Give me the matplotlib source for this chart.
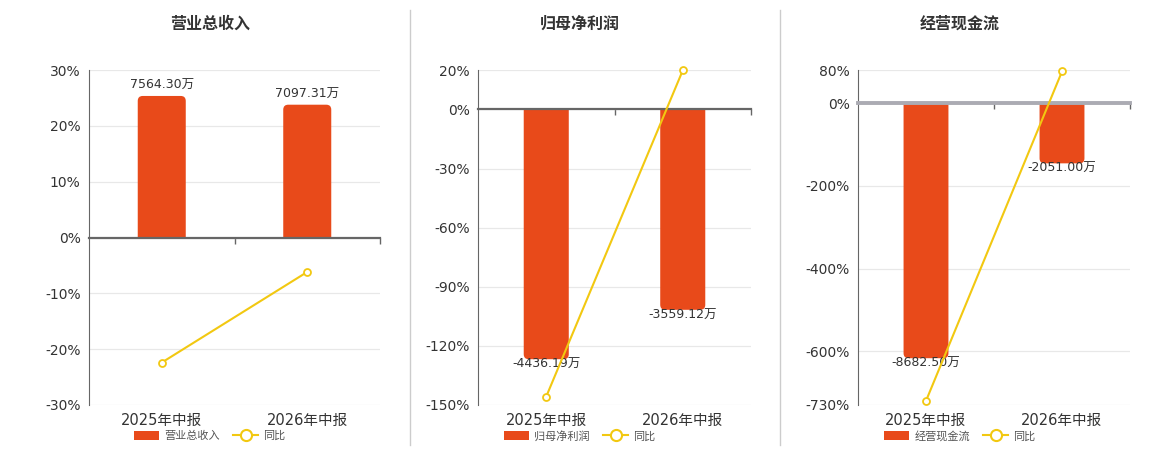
import matplotlib
matplotlib.use("Agg")
import matplotlib.pyplot as plt
from matplotlib.patches import PathPatch, Patch
from matplotlib.path import Path
from matplotlib.lines import Line2D
from matplotlib.transforms import blended_transform_factory

plt.rcParams['font.family'] = ['DejaVu Sans', 'Noto Sans CJK SC']

# Data
periods = ['2025年中报', '2026年中报']
titles = ['营业总收入', '归母净利润', '经营现金流']
bar_values = [
    [7564.30, 7097.31],
    [-4436.19, -3559.12],
    [-8682.50, -2051.00],
]
yoy_values = [
    [-22.4, -6.17],
    [-145.7, 19.77],
    [-720.0, 76.38],
]
pct_ticks = [
    [-30, -20, -10, 0, 10, 20, 30],
    [-150, -120, -90, -60, -30, 0, 20],
    [-730, -600, -400, -200, 0, 80],
]

# Layout / style (pixels of a 1160x450 canvas)
W, H = 1160, 450
axes_px = [(89, 380), (478, 751), (858, 1130)]
ax_top, ax_bottom = 70, 405
center_px = [210, 580, 960]
zero_styles = [dict(color='#666666', lw=1.6), dict(color='#666666', lw=1.6),
               dict(color='#ababb3', lw=2.8)]
BAR_COLOR = '#e84a1a'
LINE_COLOR = '#f2c811'
TEXT = '#333333'
BAR_REACH = 0.845
BAR_WIDTH = 0.33
RADIUS_PX = 5


def round_end(rect, rx, ry):
    """single path: square at the base, rounded at the far end"""
    a = rect.get_x()
    b = a + rect.get_width()
    y0 = rect.get_y()
    h = rect.get_height()
    v = y0 + h
    s = 1 if h >= 0 else -1
    verts = [(a, y0), (a, v - s * ry), (a, v), (a + rx, v), (b - rx, v),
             (b, v), (b, v - s * ry), (b, y0), (a, y0)]
    codes = [Path.MOVETO, Path.LINETO, Path.CURVE3, Path.CURVE3, Path.LINETO,
             Path.CURVE3, Path.CURVE3, Path.LINETO, Path.CLOSEPOLY]
    return Path(verts, codes)


fig = plt.figure(figsize=(W / 100, H / 100), dpi=100)

for i in range(3):
    left, right = axes_px[i]
    pos = [left / W, (H - ax_bottom) / H, (right - left) / W, (ax_bottom - ax_top) / H]
    ax = fig.add_axes(pos)
    ax_l = ax.twinx()
    ax_l.set_zorder(ax.get_zorder() + 1)
    ax_l.patch.set_visible(False)

    ticks = pct_ticks[i]
    lo, hi = min(ticks), max(ticks)
    vals = bar_values[i]
    big = max(vals, key=abs)
    # bar axis scaled so zero lines up with the percent axis
    k = abs(big) / (BAR_REACH * abs(lo if big < 0 else hi))

    x = list(range(len(periods)))
    ax.set_xlim(-0.5, len(periods) - 0.5)
    ax.set_ylim(lo * k, hi * k)
    ax_l.set_ylim(lo, hi)

    bars = ax.bar(x, vals, width=BAR_WIDTH, color=BAR_COLOR, zorder=2)

    # corner radius in data units
    bb = ax.get_position()
    xr = (ax.get_xlim()[1] - ax.get_xlim()[0]) / (bb.width * W)
    yr = (ax.get_ylim()[1] - ax.get_ylim()[0]) / (bb.height * H)
    for rect in bars:
        rect.set_visible(False)
        ax.add_patch(PathPatch(round_end(rect, RADIUS_PX * xr, RADIUS_PX * yr),
                               fc=BAR_COLOR, ec='none', zorder=2))

    for xi, v in zip(x, vals):
        if v >= 0:
            ax.annotate(f'{v:.2f}万', (xi, v), xytext=(0, 3), textcoords='offset points',
                        ha='center', va='bottom', fontsize=9, color=TEXT, zorder=5)
        else:
            ax.annotate(f'{v:.2f}万', (xi, v), xytext=(0, 1), textcoords='offset points',
                        ha='center', va='top', fontsize=9, color=TEXT, zorder=5)

    ax_l.plot(x, yoy_values[i], color=LINE_COLOR, lw=1.5, marker='o', ms=5,
              mfc='white', mec=LINE_COLOR, mew=1.3, zorder=4, clip_on=False)

    # y axis: percent labels on the bar axis
    ax.set_yticks([t * k for t in ticks])
    ax.set_yticklabels([f'{t}%' for t in ticks])
    ax.tick_params(axis='y', length=0, pad=6, labelsize=10, labelcolor=TEXT)
    ax.yaxis.grid(True, color='#e8e8e8', lw=0.9)
    ax.set_axisbelow(True)
    ax_l.set_yticks([])

    # x axis sits on zero
    ax.spines['bottom'].set_position(('data', 0))
    ax.spines['bottom'].set_color(zero_styles[i]['color'])
    ax.spines['bottom'].set_linewidth(zero_styles[i]['lw'])
    ax.spines['bottom'].set_zorder(3)
    ax.set_xticks([0.5, 1.5])
    ax.set_xticklabels([])
    ax.tick_params(axis='x', length=4, color='#666666', width=1)
    ax.spines['left'].set_color('#666666')
    for s in ['top', 'right']:
        ax.spines[s].set_visible(False)
    for s in ax_l.spines.values():
        s.set_visible(False)

    trans = blended_transform_factory(ax.transData, fig.transFigure)
    for xi, p in zip(x, periods):
        ax.text(xi, 1 - 420 / H, p, transform=trans, ha='center', va='center',
                fontsize=10.5, color=TEXT)

    fig.text(center_px[i] / W, 1 - 24 / H, titles[i], ha='center', va='center',
             fontsize=11.5, fontweight='bold', color=TEXT, family='Noto Sans CJK SC')

    handles = [Patch(fc=BAR_COLOR, ec='none'),
               Line2D([], [], color=LINE_COLOR, lw=1.5, marker='o', ms=8,
                      mfc='white', mec=LINE_COLOR, mew=1.5)]
    fig.legend(handles, [titles[i], '同比'], loc='center',
               bbox_to_anchor=(center_px[i] / W, 1 - 436 / H), ncol=2, frameon=False,
               labelcolor='#555555', handlelength=2.2, handleheight=0.9,
               columnspacing=1.2, handletextpad=0.5,
               prop={'family': 'Noto Sans CJK SC', 'size': 8})

# panel dividers
for xd in (410, 780):
    fig.add_artist(Line2D([xd / W, xd / W], [1 - 445 / H, 1 - 10 / H],
                          color='#cccccc', lw=1))

fig.savefig('out.png', dpi=100, facecolor='white')
